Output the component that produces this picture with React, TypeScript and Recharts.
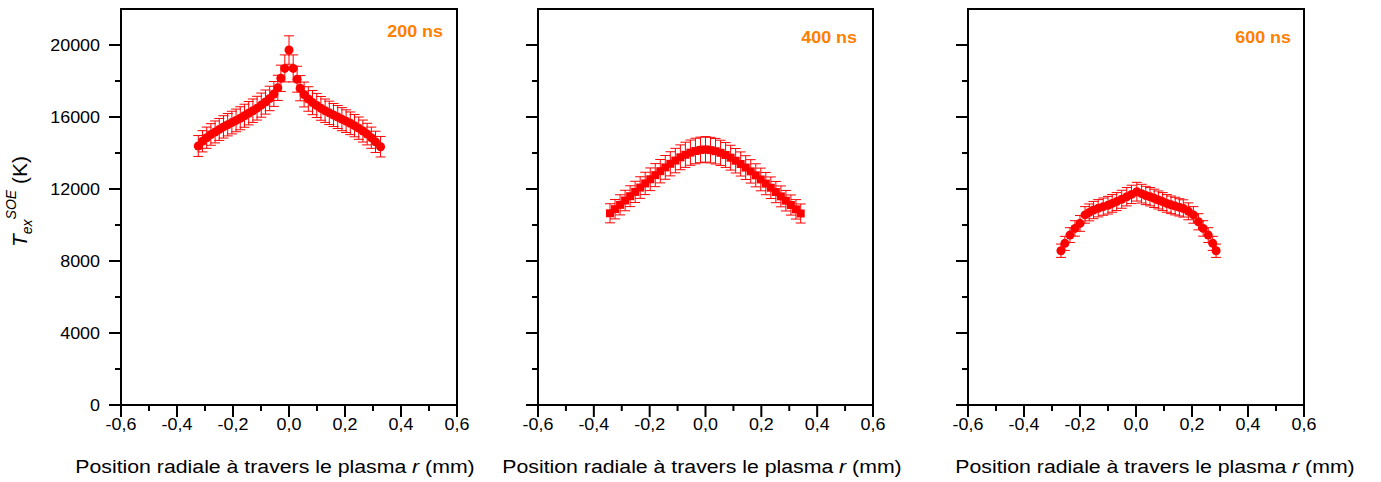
import React from 'react';
import { ScatterChart, Scatter, XAxis, YAxis, ZAxis, ErrorBar } from 'recharts';

// 200 ns : radial position (mm), excitation temperature (K), uncertainty (K)
const r200 = [
  -0.324, -0.309, -0.294, -0.279, -0.264, -0.249, -0.234, -0.219, -0.204, -0.189, -0.174,
  -0.159, -0.144, -0.129, -0.114, -0.099, -0.084, -0.069, -0.054, -0.04, -0.029, -0.015, 0,
  0.015, 0.029, 0.04, 0.054, 0.069, 0.084, 0.099, 0.114, 0.129, 0.144, 0.159, 0.174, 0.189,
  0.204, 0.219, 0.234, 0.249, 0.264, 0.279, 0.294, 0.309, 0.327,
];
const t200 = [
  14390, 14650, 14850, 15030, 15170, 15310, 15450, 15570, 15690, 15810, 15930,
  16070, 16210, 16350, 16490, 16660, 16830, 17030, 17280, 17620, 18150, 18700, 19720,
  18700, 18100, 17600, 17250, 17000, 16800, 16640, 16480, 16350, 16230, 16110, 16000, 15880,
  15770, 15650, 15520, 15380, 15220, 15050, 14850, 14620, 14350,
];
const e200 = [
  580, 590, 590, 600, 610, 610, 620, 620, 630, 630, 640,
  640, 650, 650, 660, 670, 670, 680, 690, 700, 730, 750, 790,
  750, 720, 700, 690, 680, 670, 670, 660, 650, 650, 640, 640, 640,
  630, 630, 620, 620, 610, 600, 590, 590, 570,
];

// 400 ns
const r400 = [
  -0.342, -0.324, -0.306, -0.288, -0.27, -0.252, -0.234, -0.216, -0.198, -0.18, -0.162,
  -0.144, -0.126, -0.108, -0.09, -0.072, -0.054, -0.036, -0.018, 0, 0.018, 0.036, 0.054,
  0.072, 0.09, 0.108, 0.126, 0.144, 0.162, 0.18, 0.198, 0.216, 0.234, 0.252, 0.27, 0.288,
  0.306, 0.324, 0.341,
];
const t400 = [
  10650, 10880, 11120, 11360, 11600, 11840, 12080, 12310, 12540, 12770, 12990,
  13200, 13400, 13580, 13760, 13900, 14020, 14110, 14170, 14200, 14160, 14100, 14010,
  13890, 13740, 13570, 13390, 13190, 12980, 12760, 12530, 12300, 12070, 11830, 11590, 11350,
  11110, 10870, 10640,
];
const e400 = [
  530, 540, 560, 570, 580, 590, 600, 620, 630, 640, 650,
  660, 670, 680, 690, 700, 700, 710, 710, 710, 710, 710, 700,
  690, 690, 680, 670, 660, 650, 640, 630, 620, 600, 590, 580, 570,
  560, 540, 530,
];

// 600 ns
const r600 = [
  -0.268, -0.254, -0.236, -0.218, -0.2, -0.182, -0.167, -0.152, -0.135, -0.117, -0.1,
  -0.085, -0.069, -0.051, -0.033, -0.016, 0.003, 0.02, 0.035, 0.05, 0.065, 0.08, 0.095,
  0.11, 0.125, 0.14, 0.155, 0.169, 0.187, 0.205, 0.223, 0.24, 0.258, 0.274, 0.286,
];
const t600 = [
  8570, 8980, 9440, 9810, 10090, 10560, 10700, 10830, 10930, 11020, 11100,
  11200, 11300, 11430, 11570, 11700, 11850, 11740, 11640, 11570, 11480, 11390, 11300,
  11200, 11120, 11050, 10980, 10920, 10760, 10560, 10180, 9810, 9440, 8980, 8570,
];
const e600 = [
  370, 390, 410, 430, 440, 460, 470, 480, 480, 480, 490,
  490, 500, 500, 510, 510, 520, 520, 510, 510, 510, 500, 500,
  490, 490, 490, 480, 480, 470, 460, 450, 430, 410, 390, 370,
];

const xTicks = [-0.6, -0.5, -0.4, -0.3, -0.2, -0.1, 0, 0.1, 0.2, 0.3, 0.4, 0.5, 0.6];
const yTicks = [0, 2000, 4000, 6000, 8000, 10000, 12000, 14000, 16000, 18000, 20000];

const FONT = '"Liberation Sans", Arial, Helvetica, sans-serif';
const SX = 1.12; // the original figure is slightly stretched horizontally
const TICK_FS = 16;
const RED = '#ff0000';
const ORANGE = '#ff8000';

const zip = (r: number[], t: number[], e: number[]) =>
  r.map((v, i) => ({ r: v, t: t[i], err: e[i] }));

const xMajor = (v: number) => Math.round(v * 10) % 2 === 0;
const yMajor = (v: number) => v % 4000 === 0;
const fmtX = (v: number) => v.toFixed(1).replace('.', ',');

// tick marks drawn by hand so that major/minor ticks can share one axis
function makeTick(side: 'bottom' | 'top' | 'left' | 'right', label: boolean) {
  return (props: any) => {
    const { x, y, payload } = props;
    const v = payload.value;
    const horiz = side === 'bottom' || side === 'top';
    const major = horiz ? xMajor(v) : yMajor(v);
    const len = major ? 12 : 6;
    const line = horiz ? (
      <line x1={x} y1={y} x2={x} y2={y + len} stroke="#000" strokeWidth={2} />
    ) : (
      <line x1={x} y1={y} x2={x - len} y2={y} stroke="#000" strokeWidth={2} />
    );
    let text = null;
    if (label && major) {
      if (side === 'bottom') {
        text = (
          <text transform={`translate(${x},${y + 25}) scale(${SX},1)`} textAnchor="middle"
            fontSize={TICK_FS} fontFamily={FONT} fill="#000">{fmtX(v)}</text>
        );
      } else if (side === 'left') {
        text = (
          <text transform={`translate(${x - 21},${y + 5.5}) scale(${SX},1)`} textAnchor="end"
            fontSize={TICK_FS} fontFamily={FONT} fill="#000">{v}</text>
        );
      } else {
        text = (
          <text transform={`translate(${x + 14},${y + 5.5}) scale(${SX},1)`} textAnchor="start"
            fontSize={TICK_FS} fontFamily={FONT} fill="#000">{v}</text>
        );
      }
    }
    return (
      <g>
        {line}
        {text}
      </g>
    );
  };
}

const axisLine = { stroke: '#000', strokeWidth: 2, strokeLinecap: 'square' as const };

type PanelProps = {
  data: { r: number; t: number; err: number }[];
  shape: 'circle' | 'square';
  size: number;
  left: number;
  width: number;
  margin: { top: number; right: number; bottom: number; left: number };
  labelSide: 'left' | 'right';
  tag: string;
  tagX: number;
  tagY: number;
  titleX: number;
  yTitle?: boolean;
};

function Panel(p: PanelProps) {
  return (
    <div style={{ position: 'absolute', left: p.left, top: 0 }}>
      <ScatterChart width={p.width} height={482} margin={p.margin}>
        <XAxis dataKey="r" type="number" domain={[-0.6, 0.6]} ticks={xTicks} interval={0}
          height={1} tickSize={0} tickMargin={0} tickLine={false} axisLine={axisLine}
          tick={makeTick('bottom', true)} allowDataOverflow />
        <XAxis xAxisId="top" orientation="top" type="number" domain={[-0.6, 0.6]} ticks={xTicks}
          interval={0} height={1} tickSize={0} tickMargin={0} tickLine={false} axisLine={axisLine}
          tick={makeTick('top', false)} />
        <YAxis dataKey="t" type="number" domain={[0, 22000]} ticks={yTicks} interval={0}
          width={1} tickSize={0} tickMargin={0} tickLine={false} axisLine={axisLine}
          tick={makeTick('left', p.labelSide === 'left')} allowDataOverflow />
        <YAxis yAxisId="side" orientation="right" type="number" domain={[0, 22000]} ticks={yTicks}
          interval={0} width={1} tickSize={0} tickMargin={0} tickLine={false} axisLine={axisLine}
          tick={makeTick('right', p.labelSide === 'right')} />
        <ZAxis range={[p.size, p.size]} />
        <Scatter data={p.data} fill={RED} shape={p.shape} isAnimationActive={false}>
          <ErrorBar dataKey="err" direction="y" width={5} stroke={RED} strokeWidth={1} />
        </Scatter>
        <text transform={`translate(${p.tagX - p.left},${p.tagY}) scale(${SX},1)`} textAnchor="end"
          fontSize={16} fontWeight="bold" fontFamily={FONT} fill={ORANGE}>{p.tag}</text>
        <text transform={`translate(${p.titleX - p.left},473) scale(${SX},1)`} textAnchor="middle"
          fontSize={19} fontFamily={FONT} fill="#000">
          Position radiale à travers le plasma{' '}
          <tspan fontStyle="italic">r</tspan> (mm)
        </text>
        {p.yTitle && (
          <text transform="translate(27,247) rotate(-90)" fontFamily={FONT} fontSize={21} fill="#000">
            <tspan fontStyle="italic">T</tspan>
            <tspan fontStyle="italic" fontSize={14} dy={5}>ex</tspan>
            <tspan fontStyle="italic" fontSize={14} dy={-16}>SOE</tspan>
            <tspan dy={11}> (K)</tspan>
          </text>
        )}
      </ScatterChart>
    </div>
  );
}

export default function App() {
  return (
    <div style={{ position: 'absolute', left: 0, top: 0, width: 1381, height: 482, background: '#fff' }}>
      <Panel data={zip(r200, t200, e200)} shape="circle" size={64} left={0} width={485}
        margin={{ top: 8, right: 27, bottom: 76, left: 120 }} labelSide="left"
        tag="200 ns" tagX={443} tagY={37} titleX={275} yTitle />
      <Panel data={zip(r400, t400, e400)} shape="square" size={90} left={485} width={465}
        margin={{ top: 8, right: 76, bottom: 76, left: 52 }} labelSide="right"
        tag="400 ns" tagX={857} tagY={43} titleX={702} />
      <Panel data={zip(r600, t600, e600)} shape="circle" size={64} left={910} width={471}
        margin={{ top: 8, right: 76, bottom: 76, left: 57 }} labelSide="right"
        tag="600 ns" tagX={1291} tagY={43} titleX={1155} />
    </div>
  );
}
